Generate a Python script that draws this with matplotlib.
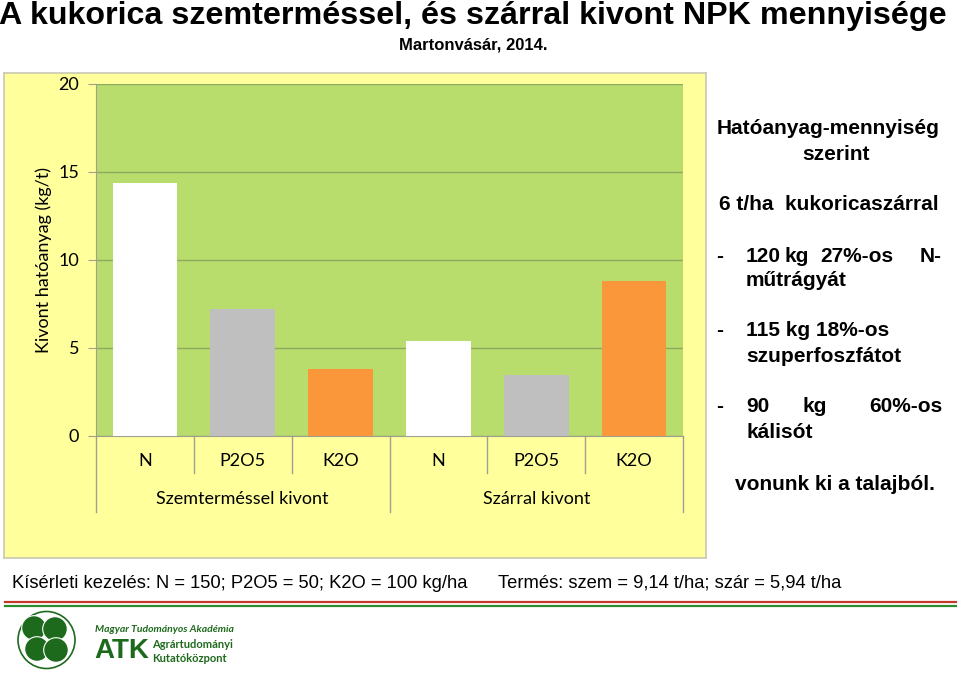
import numpy as np
import matplotlib.pyplot as plt
from matplotlib.patches import Circle

# data
groups = ["Szemterméssel kivont", "Szárral kivont"]
nutrients = ["N", "P2O5", "K2O", "N", "P2O5", "K2O"]
values = [14.35, 7.2, 3.8, 5.4, 3.45, 8.8]
bar_colors = ["#ffffff", "#bfbfbf", "#f9973a", "#ffffff", "#bfbfbf", "#f9973a"]
yticks = [0, 5, 10, 15, 20]

W, H = 960, 678
fig = plt.figure(figsize=(W / 100, H / 100), dpi=100)
fig.patch.set_facecolor("white")


def px(x, y):
    return x / W, 1 - y / H


def ftext(x, y, s, **kw):
    fx, fy = px(x, y)
    fig.text(fx, fy, s, **kw)


# yellow chart panel (as a background axes)
x0, y0 = px(4, 558)
x1, y1 = px(706, 73)
pax = fig.add_axes([x0, y0, x1 - x0, y1 - y0], zorder=0)
pax.set_facecolor("#ffff9c")
pax.set_xticks([])
pax.set_yticks([])
for s in pax.spines.values():
    s.set_color("#c8c8b4")
    s.set_linewidth(1.2)

# plot area
l, b = px(96, 436)
r, t = px(683, 84)
ax = fig.add_axes([l, b, r - l, t - b], zorder=1)
ax.set_facecolor("#b9dd6d")
xpos = np.arange(len(values))
ax.bar(xpos, values, width=0.66, color=bar_colors, zorder=3)
ax.set_xlim(-0.5, len(values) - 0.5)
ax.set_ylim(0, 20)
ax.set_yticks(yticks)
ax.set_yticklabels([str(v) for v in yticks], fontsize=13, family="Lato")
ax.grid(axis="y", color="#8fa860", lw=1.0, zorder=1)
ax.set_axisbelow(True)
for s in ["top", "right"]:
    ax.spines[s].set_visible(False)
ax.spines["left"].set_color("#a0a090")
ax.spines["bottom"].set_color("#a0a090")
ax.tick_params(axis="y", length=6, color="#a0a090", pad=6)
ax.tick_params(axis="x", length=0)
ax.set_xticks([])
ax.set_ylabel("Kivont hatóanyag (kg/t)", fontsize=13, family="Lato", labelpad=5)

# multi-level category axis
trans = ax.get_xaxis_transform()
for i, lab in enumerate(nutrients):
    ax.text(xpos[i], -0.072, lab, transform=trans, ha="center", va="center",
            fontsize=13, family="Lato", clip_on=False)
for xs in [0.5, 1.5, 3.5, 4.5]:
    ax.plot([xs, xs], [0, -0.105], transform=trans, color="#a0a090", lw=1, clip_on=False)
for xs in [-0.5, 2.5, 5.5]:
    ax.plot([xs, xs], [0, -0.216], transform=trans, color="#a0a090", lw=1, clip_on=False)
for g, lab in enumerate(groups):
    ax.text(1 + 3 * g, -0.178, lab, transform=trans, ha="center", va="center",
            fontsize=13, family="Lato", clip_on=False)

# titles
ftext(473, 16, "A kukorica szemterméssel, és szárral kivont NPK mennyisége",
      ha="center", va="center", fontsize=23.2, fontweight="bold", family="Liberation Sans")
ftext(473, 45, "Martonvásár, 2014.", ha="center", va="center", fontsize=12,
      fontweight="bold", family="Liberation Sans")

# right text block
bkw = dict(fontsize=15, fontweight="bold", family="Liberation Sans", va="center")
ftext(828, 128, "Hatóanyag-mennyiség", ha="center", **bkw)
ftext(836, 155, "szerint", ha="center", **bkw)
ftext(829, 204, "6 t/ha  kukoricaszárral", ha="center", **bkw)
for yy in [256, 330, 407]:
    ftext(716, yy, "-", ha="left", **bkw)
ftext(746, 256, "120", ha="left", **bkw)
ftext(785, 256, "kg", ha="left", **bkw)
ftext(820, 256, "27%-os", ha="left", **bkw)
ftext(942, 256, "N-", ha="right", **bkw)
ftext(746, 280, "műtrágyát", ha="left", **bkw)
ftext(746, 330, "115 kg 18%-os", ha="left", **bkw)
ftext(746, 356, "szuperfoszfátot", ha="left", **bkw)
ftext(746, 407, "90", ha="left", **bkw)
ftext(815, 407, "kg", ha="center", **bkw)
ftext(942, 407, "60%-os", ha="right", **bkw)
ftext(746, 433, "kálisót", ha="left", **bkw)
ftext(835, 485, "vonunk ki a talajból.", ha="center", **bkw)

# bottom notes
nkw = dict(fontsize=13.2, family="Liberation Sans", va="center", ha="left")
ftext(12, 583, "Kísérleti kezelés: N = 150; P2O5 = 50; K2O = 100 kg/ha", **nkw)
ftext(498, 583, "Termés: szem = 9,14 t/ha; szár = 5,94 t/ha", **nkw)

# red / green rule
for yy, c in [(602, "#c0392b"), (605.5, "#2e8b2e")]:
    fx0, fy = px(5, yy)
    fx1, _ = px(956, yy)
    fig.add_artist(plt.Line2D([fx0, fx1], [fy, fy], transform=fig.transFigure, color=c, lw=1.6))

# logo
green = "#1d6a1d"
lax = fig.add_axes([0, 0, 1, 1], facecolor="none", zorder=2)
lax.set_xlim(0, W)
lax.set_ylim(H, 0)
lax.set_aspect("equal")
lax.axis("off")
lax.add_patch(Circle((46.5, 640), 28.5, fill=False, edgecolor=green, lw=1.2))
for cx, cy in [(34, 628), (55, 629), (37, 649), (56, 650)]:
    lax.add_patch(Circle((cx, cy), 12.3, facecolor=green, edgecolor="white", lw=0.8))
ftext(95, 630, "Magyar Tudományos Akadémia", fontsize=7.5, style="italic", fontweight="bold",
      family="Lato", color=green, va="center")
ftext(94, 651, "ATK", fontsize=20, fontweight="bold", family="Liberation Sans", color=green, va="center")
ftext(152, 644, "Agrártudományi", fontsize=8, fontweight="bold", family="Lato", color=green, va="center")
ftext(152, 658, "Kutatóközpont", fontsize=8, fontweight="bold", family="Lato", color=green, va="center")

fig.savefig("out.png", dpi=100)
